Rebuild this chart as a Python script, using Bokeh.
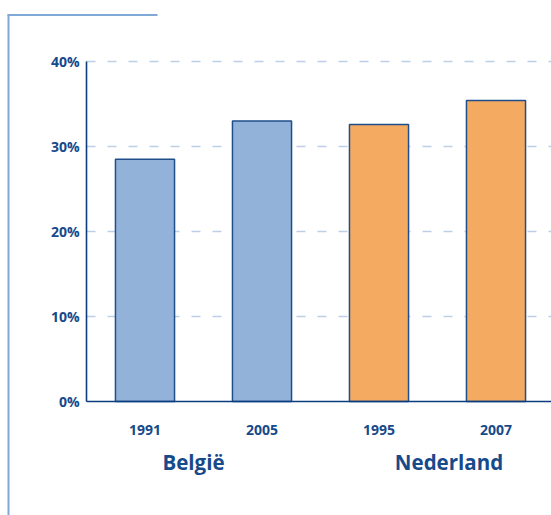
from bokeh.plotting import figure
from bokeh.models import ColumnDataSource, Range1d
from bokeh.core.properties import value
from bokeh.embed import file_html
from bokeh.resources import INLINE

# ---- data ----
years = ["1991", "2005", "1995", "2007"]
countries = ["België", "België", "Nederland", "Nederland"]
values = [28.5, 33.0, 32.6, 35.4]
colors = ["#92b2da", "#92b2da", "#f4aa61", "#f4aa61"]
y_ticks = [0, 10, 20, 30, 40]
y_tick_labels = ["0%", "10%", "20%", "30%", "40%"]
group_names = ["België", "Nederland"]

# ---- layout constants (pixels) ----
W, H = 551, 515
ORIGIN_X, ORIGIN_Y = 86, 401      # pixel of (0, 0%)
PX_PER_UNIT_X = 117.0
PX_PER_PCT = (401 - 61) / 40.0

TEXT = "#174a8b"
AXIS = "#0b3d7e"
GRID = "#bccfe7"
DECO = "#7fa9d6"
FONT = value("Open Sans")


def px_to_x(px):
    return (px - ORIGIN_X) / PX_PER_UNIT_X


def py_to_y(py):
    return (ORIGIN_Y - py) / PX_PER_PCT


p = figure(width=W, height=H, output_backend="svg", toolbar_location=None,
           x_range=Range1d(px_to_x(0), px_to_x(W)),
           y_range=Range1d(py_to_y(H), py_to_y(0)),
           min_border=0, x_axis_location=None, y_axis_location=None)
p.outline_line_color = None
p.grid.visible = False
p.background_fill_color = "white"
p.border_fill_color = "white"

x_end = px_to_x(W)
xpos = [i + 0.5 for i in range(len(years))]

# grid lines (dashed)
gt = y_ticks[1:]
p.segment(x0=[0] * len(gt), x1=[x_end] * len(gt), y0=gt, y1=gt,
          line_color=GRID, line_width=1.5, line_dash="9 12")

# bars
src = ColumnDataSource(dict(x=xpos, top=values, color=colors, year=years))
p.vbar(x="x", top="top", bottom=0, width=0.505, source=src, fill_color="color",
       line_color="#1f4f8a", line_width=1.5)

# axes
p.segment(x0=[0], y0=[0], x1=[0], y1=[max(y_ticks)], line_color=AXIS, line_width=1.6)
p.segment(x0=[0], y0=[0], x1=[x_end], y1=[0], line_color=AXIS, line_width=1.6)

# y tick labels
p.text(x=[0] * len(y_ticks), y=y_ticks, text=y_tick_labels, x_offset=-7,
       text_font=FONT, text_font_style="bold", text_font_size="14px",
       text_color=TEXT, text_align="right", text_baseline="middle")

# x tick labels (years)
p.text(x=xpos, y=[0] * len(xpos), text=years, y_offset=28,
       text_font=FONT, text_font_style="bold", text_font_size="14px",
       text_color=TEXT, text_align="center", text_baseline="middle")

# group labels
gx = [px_to_x(193), px_to_x(448.5)]
p.text(x=gx, y=[0, 0], text=group_names, y_offset=60,
       text_font=FONT, text_font_style="bold", text_font_size="20.5px",
       text_color=TEXT, text_align="center", text_baseline="middle")

# decorative frame lines
p.segment(x0=[px_to_x(7), px_to_x(8)], y0=[py_to_y(14.5), py_to_y(14)],
          x1=[px_to_x(157), px_to_x(8)], y1=[py_to_y(14.5), py_to_y(H)],
          line_color=DECO, line_width=2)

open("out.html", "w").write(file_html(p, INLINE))
